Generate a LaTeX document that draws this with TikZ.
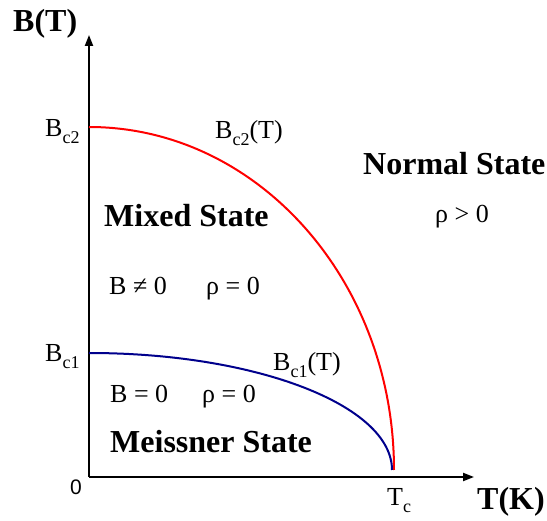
\documentclass[tikz,border=0pt]{standalone}
\usepackage{fontspec}
\setmainfont{Liberation Serif}
\newfontfamily\axisfont{Liberation Sans}
\usetikzlibrary{arrows.meta}
\newcommand{\crit}[1]{\raisebox{-0.25em}{\fontsize{18}{18}\selectfont #1}}

\begin{document}
\begin{tikzpicture}[
  x=1pt, y=-1pt,
  every node/.style={inner sep=0pt, anchor=base west},
  title/.style={font=\fontsize{32}{36}\selectfont\bfseries},
  lbl/.style={font=\fontsize{26}{30}\selectfont},
  axis/.style={line width=2pt, -{Triangle[length=11pt,width=8pt]}},
  curve/.style={line width=2pt}
]
\useasboundingbox (0,0) rectangle (547,521);

% Axes
\coordinate (origin) at (89,477);
\coordinate (ytip) at (89,35);
\coordinate (xtip) at (474,477);
\draw[axis] (origin) -- (ytip);
\draw[axis] (origin) -- (xtip);
\node[title] (ylab) at (13,32) {B(T)};
\node[title] (xlab) at (477,510) {T(K)};
\node[font=\axisfont\fontsize{21}{24}\selectfont] (zero) at (70,495) {0};
\node[lbl] (tc) at (387,506) {T\crit{c}};

% Critical fields
\coordinate (bctwo) at (89,127);
\coordinate (bcone) at (89,353);
\draw[curve, red] (bctwo) arc[start angle=90, end angle=0, x radius=305pt, y radius=343pt];
\draw[curve, blue!55!black] (bcone) arc[start angle=90, end angle=0, x radius=303pt, y radius=117pt];
\node[lbl] (bctwolab) at (45,137) {B\crit{c2}};
\node[lbl] (bconelab) at (45,362) {B\crit{c1}};
\node[lbl] (bctwocurve) at (215,139) {B\crit{c2}(T)};
\node[lbl] (bconecurve) at (273,371) {B\crit{c1}(T)};

% States
\node[title] (normal) at (363,175) {Normal State};
\node[lbl] (normalrho) at (435,223) {ρ > 0};
\node[title] (mixed) at (104,227) {Mixed State};
\node[lbl] (mixedb) at (109,295) {B ≠ 0};
\node[lbl] (mixedrho) at (206,295) {ρ = 0};
\node[lbl] (meissb) at (110,403) {B = 0};
\node[lbl] (meissrho) at (202,403) {ρ = 0};
\node[title] (meissner) at (110,453) {Meissner State};
\end{tikzpicture}
\end{document}
